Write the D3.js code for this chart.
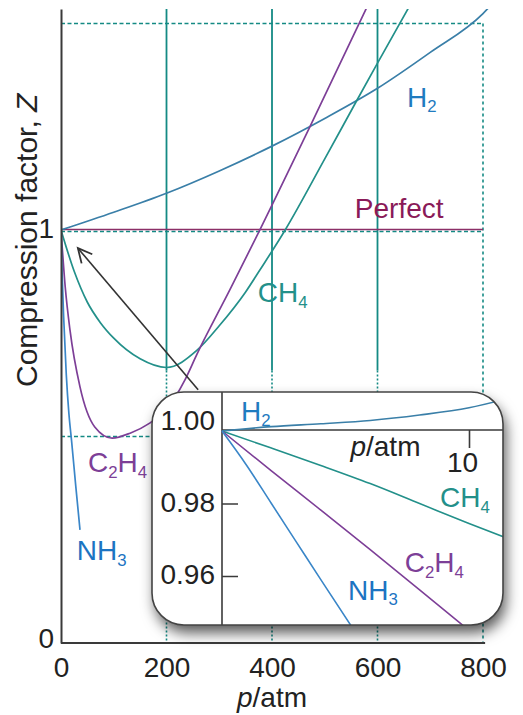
<!DOCTYPE html>
<html>
<head>
<meta charset="utf-8">
<script src="https://cdn.jsdelivr.net/npm/d3@7"></script>
<style>
  html, body { margin: 0; padding: 0; background: #fff; }
  svg { display: block; font-family: "Liberation Sans", Arial, Helvetica, sans-serif; }
</style>
</head>
<body>
<svg id="chart" width="523" height="715"></svg>
<script>
// ---- Main plot: compression factor Z against pressure p (atm) ----
const h2P   = [0, 100, 200, 300, 400, 500, 600, 700, 800, 812];
const h2Z   = [1, 1.043, 1.089, 1.143, 1.203, 1.27, 1.343, 1.43, 1.524, 1.54];

const ch4P  = [0, 25, 50, 75, 100, 150, 200, 258, 300, 350, 377, 425, 500, 561, 600, 662];
const ch4Z  = [1, 0.9, 0.825, 0.775, 0.738, 0.688, 0.667, 0.709, 0.768, 0.85, 0.903, 1.0, 1.172, 1.314, 1.404, 1.545];

const c2h4P = [0, 8, 17, 36, 64, 97, 131, 169, 199, 235, 258, 320, 377, 400, 472, 582];
const c2h4Z = [1, 0.862, 0.758, 0.62, 0.523, 0.496, 0.508, 0.533, 0.564, 0.637, 0.70, 0.855, 1.0, 1.06, 1.25, 1.545];

const nh3P  = [0, 2, 5, 10, 15, 20, 28, 36];
const nh3Z  = [1, 0.9, 0.79, 0.65, 0.555, 0.49, 0.38, 0.274];

const xTicks = [0, 200, 400, 600, 800];
const yTicks = [0, 1];
const gridSolidP  = [200, 400, 600];
const gridDottedZ = [0.5, 1, 1.5];

// ---- Inset: low-pressure detail ----
const inH2P   = [0, 2, 4, 6, 8, 10, 11.6];
const inH2Z   = [1, 1.0012, 1.002, 1.0029, 1.0044, 1.0064, 1.009];
const inCH4P  = [0, 2, 4, 6, 8, 10, 11.6];
const inCH4Z  = [1, 0.9953, 0.9905, 0.9855, 0.980, 0.9745, 0.9703];
const inC2H4P = [0, 2, 4, 6, 8, 10];
const inC2H4Z = [1, 0.989, 0.9782, 0.9673, 0.9562, 0.945];
const inNH3P  = [0, 1, 2, 3, 4, 5.3];
const inNH3Z  = [1, 0.9905, 0.980, 0.9695, 0.959, 0.9455];

const inYTicks  = [1.00, 0.98, 0.96];
const inYLabels = ["1.00", "0.98", "0.96"];
const inXTicks  = [10];

// ---- Colours ----
const TEAL   = "#148a84";
const C_H2   = "#3a7fa8";
const L_H2   = "#1f7bbf";
const C_CH4  = "#23908a";
const C_C2H4 = "#7d3f97";
const C_NH3  = "#3a86c8";
const L_NH3  = "#1c74c2";
const C_PERF = "#8c2f67";
const L_PERF = "#8a1a58";
const AXIS   = "#3a3a3a";

const svg = d3.select("#chart");
const FS = 28;

// scales
const x = d3.scaleLinear().domain([0, 800]).range([61, 483]);
const y = d3.scaleLinear().domain([0, 1.535]).range([643, 9]);
const xi = d3.scaleLinear().domain([0, 10]).range([222, 469]);
const yi = d3.scaleLinear().domain([0.96, 1.00]).range([576, 431]);

const defs = svg.append("defs");
defs.append("clipPath").attr("id", "plotClip")
  .append("rect").attr("x", x(0)).attr("y", y(1.535))
  .attr("width", x(830) - x(0)).attr("height", y(0) - y(1.535));

const box = { x: 152, y: 392, w: 351, h: 233, r: 32 };
defs.append("clipPath").attr("id", "insetClip")
  .append("rect").attr("x", box.x).attr("y", box.y)
  .attr("width", box.w).attr("height", box.h).attr("rx", box.r);

const f = defs.append("filter").attr("id", "shadow")
  .attr("x", "-20%").attr("y", "-20%").attr("width", "150%").attr("height", "160%");
f.append("feDropShadow").attr("dx", 3).attr("dy", 8).attr("stdDeviation", 7)
  .attr("flood-color", "#000").attr("flood-opacity", 0.65);

defs.append("marker").attr("id", "chevron")
  .attr("markerUnits", "userSpaceOnUse").attr("markerWidth", 30).attr("markerHeight", 30)
  .attr("viewBox", "-20 -15 30 30").attr("refX", 0).attr("refY", 0).attr("orient", "auto")
  .append("path").attr("d", "M-14,-7 L0,0 L-14,7")
  .attr("fill", "none").attr("stroke", "#333").attr("stroke-width", 1.8);

// text with subscripted digits (chemical formulae)
function formula(g, str, px, py, color, size) {
  const t = g.append("text").attr("x", px).attr("y", py)
    .attr("fill", color).attr("font-size", size);
  let sub = false;
  for (const ch of str.split(/(\d+)/).filter(s => s.length)) {
    const isNum = /^\d+$/.test(ch);
    const ts = t.append("tspan").text(ch);
    if (isNum) { ts.attr("font-size", size * 0.6).attr("dy", sub ? 0 : size * 0.2); sub = true; }
    else { ts.attr("dy", sub ? -size * 0.2 : 0); sub = false; }
  }
  return t;
}

// ---- grid ----
const grid = svg.append("g");
grid.selectAll(".vs").data(gridSolidP).join("line")
  .attr("x1", d => x(d)).attr("x2", d => x(d))
  .attr("y1", y(1.535)).attr("y2", y(0.66))
  .attr("stroke", TEAL).attr("stroke-width", 1.8);
grid.selectAll(".vd").data(gridSolidP).join("line")
  .attr("x1", d => x(d)).attr("x2", d => x(d))
  .attr("y1", y(0.66)).attr("y2", y(0))
  .attr("stroke", TEAL).attr("stroke-width", 1.6).attr("stroke-dasharray", "2,2");
grid.append("line")
  .attr("x1", x(800)).attr("x2", x(800)).attr("y1", y(1.5)).attr("y2", y(0))
  .attr("stroke", TEAL).attr("stroke-width", 1.6).attr("stroke-dasharray", "3,3");
grid.selectAll(".hd").data(gridDottedZ).join("line")
  .attr("x1", x(0)).attr("x2", d => d === 0.5 ? x(300) : x(800))
  .attr("y1", d => y(d) + (d === 1 ? 1.5 : 0)).attr("y2", d => y(d) + (d === 1 ? 1.5 : 0))
  .attr("stroke", TEAL).attr("stroke-width", 1.6).attr("stroke-dasharray", "4,2.5");

// perfect-gas line
svg.append("line")
  .attr("x1", x(0)).attr("x2", x(800)).attr("y1", y(1) - 0.5).attr("y2", y(1) - 0.5)
  .attr("stroke", C_PERF).attr("stroke-width", 1.6);

// ---- curves ----
const line = d3.line().x(d => x(d[0])).y(d => y(d[1])).curve(d3.curveMonotoneX);
const curves = svg.append("g").attr("clip-path", "url(#plotClip)");
const series = [
  [h2P, h2Z, C_H2], [ch4P, ch4Z, C_CH4], [c2h4P, c2h4Z, C_C2H4], [nh3P, nh3Z, C_NH3]
];
series.forEach(([P, Z, c]) => {
  curves.append("path").datum(P.map((p, i) => [p, Z[i]]))
    .attr("d", line).attr("fill", "none").attr("stroke", c).attr("stroke-width", 1.7);
});

// ---- curve labels ----
const labels = svg.append("g");
formula(labels, "H2", x(656), y(1.298), L_H2, FS);
labels.append("text").attr("x", x(557)).attr("y", y(1.030)).attr("fill", L_PERF)
  .attr("font-size", FS).text("Perfect");
formula(labels, "CH4", x(373), y(0.825), C_CH4, FS);
formula(labels, "C2H4", x(51), y(0.413), C_C2H4, FS);
formula(labels, "NH3", x(30), y(0.201), L_NH3, FS);

// ---- arrow pointing to the low-pressure region ----
svg.append("line")
  .attr("x1", x(260)).attr("y1", y(0.613))
  .attr("x2", x(32)).attr("y2", y(0.956))
  .attr("stroke", "#333").attr("stroke-width", 1.6)
  .attr("marker-end", "url(#chevron)");

// ---- axes ----
const xAxis = svg.append("g").attr("transform", `translate(0,${y(0)})`)
  .call(d3.axisBottom(x).tickValues(xTicks).tickSize(0).tickSizeOuter(0).tickPadding(14));
const yAxis = svg.append("g").attr("transform", `translate(${x(0)},0)`)
  .call(d3.axisLeft(y).tickValues(yTicks).tickSize(0).tickSizeOuter(0).tickPadding(7)
    .tickFormat(d3.format("d")));
[xAxis, yAxis].forEach(a => {
  a.select(".domain").attr("stroke", AXIS).attr("stroke-width", 2);
  a.selectAll("text").attr("font-size", FS).attr("fill", "#222")
    .attr("font-family", "'Liberation Sans', Arial, sans-serif");
});
xAxis.select(".domain").attr("d", `M${x(0)},0H${x(804)}`);
yAxis.selectAll(".tick text").attr("dy", d => d === 0 ? "0.15em" : "0.28em");

// axis titles
const xt = svg.append("text").attr("x", x(400)).attr("y", 707)
  .attr("text-anchor", "middle").attr("font-size", FS).attr("fill", "#222");
xt.append("tspan").attr("font-style", "italic").text("p");
xt.append("tspan").text("/atm");

const yt = svg.append("text")
  .attr("transform", `translate(37,${y(0.975)}) rotate(-90)`)
  .attr("text-anchor", "middle").attr("font-size", 30).attr("fill", "#222");
yt.append("tspan").text("Compression factor, ");
yt.append("tspan").attr("font-style", "italic").text("Z");

// ---- inset ----
const inset = svg.append("g");
inset.append("rect").attr("x", box.x).attr("y", box.y)
  .attr("width", box.w).attr("height", box.h).attr("rx", box.r)
  .attr("fill", "#fff").attr("filter", "url(#shadow)");

const inner = inset.append("g").attr("clip-path", "url(#insetClip)");
// inset axis lines
inner.append("line").attr("x1", xi(0)).attr("x2", xi(0))
  .attr("y1", box.y).attr("y2", box.y + box.h).attr("stroke", AXIS).attr("stroke-width", 1.6);
inner.append("line").attr("x1", xi(0)).attr("x2", box.x + box.w)
  .attr("y1", yi(1) - 1).attr("y2", yi(1) - 1).attr("stroke", AXIS).attr("stroke-width", 1.6);

const lineIn = d3.line().x(d => xi(d[0])).y(d => yi(d[1])).curve(d3.curveMonotoneX);
[
  [inH2P, inH2Z, C_H2], [inCH4P, inCH4Z, C_CH4], [inC2H4P, inC2H4Z, C_C2H4], [inNH3P, inNH3Z, C_NH3]
].forEach(([P, Z, c]) => {
  inner.append("path").datum(P.map((p, i) => [p, Z[i]]))
    .attr("d", lineIn).attr("fill", "none").attr("stroke", c).attr("stroke-width", 1.6);
});

// inset ticks
const iy = inner.append("g").attr("transform", `translate(${xi(0)},0)`)
  .call(d3.axisLeft(yi).tickValues(inYTicks).tickSize(-16).tickPadding(7)
    .tickFormat((d, i) => inYLabels[i]));
iy.select(".domain").remove();
iy.selectAll(".tick line").attr("stroke", AXIS).attr("stroke-width", 1.6)
  .attr("display", d => d === 1 ? "none" : null);
iy.selectAll(".tick text").attr("font-size", FS).attr("fill", "#222")
  .attr("font-family", "'Liberation Sans', Arial, sans-serif")
  .attr("dy", d => d === 1 ? "-0.05em" : "0.28em");

const ix = inner.append("g").attr("transform", `translate(0,${yi(1) - 1})`)
  .call(d3.axisBottom(xi).tickValues(inXTicks).tickSize(18).tickPadding(4));
ix.select(".domain").remove();
ix.selectAll(".tick line").attr("stroke", AXIS).attr("stroke-width", 1.6);
ix.selectAll(".tick text").attr("font-size", FS).attr("fill", "#222").attr("dx", -7)
  .attr("font-family", "'Liberation Sans', Arial, sans-serif");

const ixt = inner.append("text").attr("x", xi(5.2)).attr("y", yi(0.9932))
  .attr("font-size", FS).attr("fill", "#222");
ixt.append("tspan").attr("font-style", "italic").text("p");
ixt.append("tspan").text("/atm");

formula(inner, "H2", xi(0.77), yi(1.0028), L_H2, FS);
formula(inner, "CH4", xi(8.83), yi(0.9790), C_CH4, FS);
formula(inner, "C2H4", xi(7.4), yi(0.9610), C_C2H4, FS);
formula(inner, "NH3", xi(5.1), yi(0.9535), L_NH3, FS);

// inset frame
inset.append("rect").attr("x", box.x).attr("y", box.y)
  .attr("width", box.w).attr("height", box.h).attr("rx", box.r)
  .attr("fill", "none").attr("stroke", "#444").attr("stroke-width", 1.6);
</script>
</body>
</html>
